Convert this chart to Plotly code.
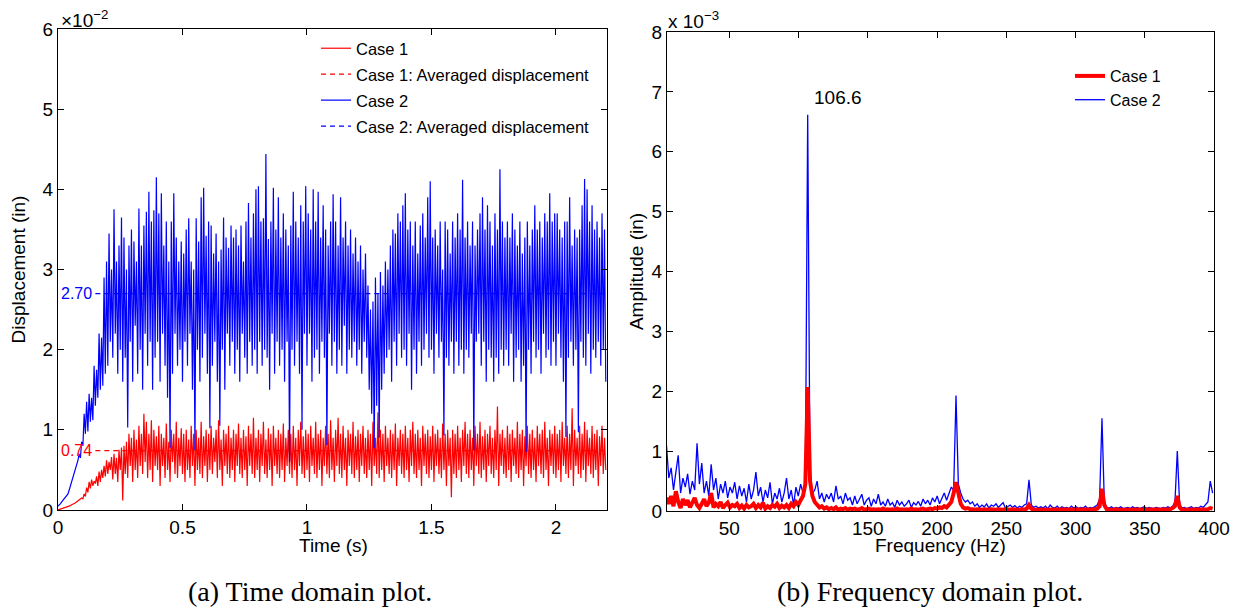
import plotly.graph_objects as go

# ---- data (time domain, displacement in 1e-2 in, sampled every 0.005 s) ----
DT = 0.005
case1_disp = [
    0.0, 0.005, 0.01, 0.015, 0.02, 0.025, 0.03, 0.035, 0.04, 0.05, 0.055, 0.065, 0.07, 0.08, 0.09, 0.1, 0.11, 0.12, 0.13, 0.15,
    0.14, 0.2, 0.17, 0.28, 0.22, 0.35, 0.27, 0.38, 0.3, 0.36, 0.33, 0.42, 0.3, 0.48, 0.35, 0.5, 0.4, 0.55, 0.42, 0.62,
    0.45, 0.6, 0.5, 0.66, 0.38, 0.7, 0.45, 0.65, 0.35, 0.75, 0.5, 0.78, 0.12, 0.8, 0.45, 0.85, 0.4, 0.95, 0.55, 0.9,
    0.35, 1.0, 0.5, 0.88, 0.4, 1.05, 0.55, 0.95, 0.45, 1.2, 0.6, 1.1, 0.4, 0.95, 0.5, 1.12, 0.35, 1.0, 0.55, 0.92,
    0.5, 1.05, 0.3, 0.95, 0.55, 0.9, 0.4, 1.08, 0.5, 0.85, 0.35, 1.0, 0.6, 0.95, 0.45, 1.1, 0.4, 0.9, 0.55, 1.02,
    0.45, 0.95, 0.35, 1.0, 0.5, 0.88, 0.4, 1.05, 0.55, 0.95, 0.3, 1.0, 0.5, 0.9, 0.45, 1.1, 0.4, 0.92, 0.55, 1.0,
    0.35, 0.95, 0.5, 1.05, 0.45, 0.9, 0.6, 1.0, 0.4, 1.12, 0.5, 0.88, 0.3, 1.0, 0.55, 0.95, 0.45, 1.05, 0.4, 0.9,
    0.5, 1.0, 0.35, 0.95, 0.55, 1.08, 0.45, 0.9, 0.4, 1.0, 0.5, 0.92, 0.3, 1.05, 0.55, 0.95, 0.45, 1.15, 0.4, 0.9,
    0.5, 1.0, 0.35, 0.95, 0.55, 1.1, 0.45, 0.88, 0.4, 1.02, 0.5, 0.95, 0.3, 1.05, 0.55, 0.9, 0.45, 1.0, 0.4, 0.95,
    0.5, 1.08, 0.35, 0.9, 0.55, 1.0, 0.45, 0.95, 0.4, 1.05, 0.5, 0.9, 0.3, 1.0, 0.55, 1.1, 0.45, 0.92, 0.4, 1.0,
    0.5, 0.95, 0.35, 1.05, 0.55, 0.9, 0.45, 1.1, 0.4, 0.95, 0.5, 1.0, 0.3, 0.9, 0.55, 1.05, 0.45, 0.95, 0.4, 1.12,
    0.5, 0.9, 0.35, 1.0, 0.55, 1.15, 0.45, 0.95, 0.4, 1.05, 0.5, 0.9, 0.3, 1.0, 0.55, 0.95, 0.45, 1.1, 0.4, 0.92,
    0.5, 1.0, 0.35, 0.95, 0.55, 1.05, 0.45, 0.9, 0.4, 1.0, 0.5, 0.95, 0.3, 1.1, 0.55, 0.9, 0.45, 1.22, 0.4, 1.0,
    0.5, 0.95, 0.35, 1.05, 0.55, 0.9, 0.45, 1.0, 0.4, 0.95, 0.5, 1.08, 0.3, 0.9, 0.55, 1.0, 0.45, 0.95, 0.4, 1.05,
    0.5, 0.9, 0.35, 1.0, 0.55, 1.1, 0.45, 0.95, 0.4, 1.0, 0.5, 0.9, 0.3, 1.05, 0.55, 0.95, 0.45, 1.0, 0.4, 0.92,
    0.5, 1.05, 0.35, 0.95, 0.55, 1.0, 0.45, 0.9, 0.4, 1.08, 0.5, 0.95, 0.3, 1.0, 0.55, 0.9, 0.16, 1.0, 0.45, 0.95,
    0.4, 1.05, 0.5, 0.9, 0.35, 1.0, 0.55, 1.1, 0.45, 0.95, 0.4, 1.0, 0.5, 0.9, 0.3, 1.05, 0.55, 0.95, 0.45, 1.1,
    0.4, 0.92, 0.5, 1.0, 0.35, 0.95, 0.55, 1.05, 0.45, 0.9, 0.4, 1.0, 0.5, 1.29, 0.3, 0.95, 0.55, 1.0, 0.45, 0.9,
    0.4, 1.05, 0.5, 0.95, 0.35, 1.0, 0.55, 0.9, 0.45, 1.1, 0.4, 0.95, 0.5, 1.0, 0.3, 0.92, 0.55, 1.05, 0.45, 0.95,
    0.4, 1.0, 0.5, 0.9, 0.35, 1.05, 0.55, 0.95, 0.45, 1.0, 0.4, 1.1, 0.5, 0.9, 0.3, 1.0, 0.55, 0.95, 0.45, 1.05,
    0.4, 0.95, 0.5, 1.0, 0.35, 1.1, 0.55, 0.9, 0.45, 1.05, 0.4, 0.95, 0.5, 1.27, 0.3, 1.0, 0.55, 0.9, 0.45, 1.05,
    0.4, 0.95, 0.5, 1.1, 0.35, 1.0, 0.55, 0.9, 0.45, 1.05, 0.4, 0.95, 0.5, 1.0, 0.3, 0.92, 0.55, 1.05, 0.45, 0.9,
    0.5,
]
case2_disp = [
    0.05, 0.06, 0.08, 0.1, 0.12, 0.14, 0.15, 0.18, 0.2, 0.25, 0.3, 0.35, 0.42, 0.45, 0.5, 0.55, 0.62, 0.7, 0.65, 0.85,
    0.8, 1.2, 0.95, 1.35, 0.98, 1.45, 1.1, 1.4, 1.12, 1.8, 1.3, 1.75, 1.4, 2.2, 1.5, 2.15, 1.55, 2.9, 1.7, 3.1,
    1.8, 3.45, 2.1, 3.0, 1.9, 3.75, 2.2, 3.1, 1.7, 3.3, 2.0, 3.65, 1.6, 3.4, 1.9, 3.0, 1.03, 3.3, 2.1, 3.5,
    1.6, 3.35, 2.3, 3.1, 1.7, 3.76, 2.0, 3.3, 1.5, 3.55, 2.2, 3.72, 1.8, 3.97, 2.1, 3.6, 1.5, 3.74, 1.9, 4.15,
    2.1, 3.7, 1.6, 3.95, 2.2, 3.3, 1.8, 3.6, 1.4, 3.1, 0.77, 3.6, 1.7, 3.95, 2.2, 3.4, 1.8, 3.1, 2.0, 3.35,
    1.6, 3.2, 2.1, 3.5, 1.8, 3.64, 2.2, 3.1, 1.5, 3.0, 0.75, 3.64, 2.0, 3.35, 1.6, 3.9, 1.9, 4.02, 2.2, 3.42,
    1.7, 3.6, 1.02, 3.55, 1.8, 3.2, 2.1, 3.45, 1.6, 3.1, 1.05, 3.25, 2.0, 3.65, 1.5, 3.4, 2.2, 3.27, 1.8, 3.55,
    2.1, 3.4, 1.7, 3.5, 2.0, 3.3, 1.6, 3.55, 2.2, 3.1, 1.9, 3.6, 1.7, 3.83, 2.1, 3.4, 1.8, 3.7, 2.0, 4.0,
    1.7, 4.04, 2.1, 3.6, 1.8, 3.64, 2.0, 4.44, 1.9, 3.38, 1.5, 3.6, 2.2, 4.02, 1.7, 3.5, 2.1, 3.9, 1.8, 3.4,
    2.0, 3.7, 1.6, 3.5, 2.1, 3.3, 0.6, 3.55, 2.0, 3.97, 1.8, 3.6, 2.1, 3.4, 1.7, 3.8, 1.0, 3.6, 2.2, 4.04,
    1.8, 3.7, 2.2, 3.5, 1.6, 4.0, 1.9, 3.6, 2.0, 3.97, 1.7, 3.4, 2.1, 3.8, 1.9, 3.5, 0.81, 3.3, 2.2, 3.6,
    1.8, 3.94, 2.1, 3.6, 1.7, 3.3, 2.0, 3.9, 1.8, 3.4, 2.3, 3.6, 1.7, 3.3, 2.0, 3.5, 1.9, 3.2, 2.1, 3.4,
    1.8, 3.1, 2.0, 3.3, 1.7, 3.0, 2.1, 3.2, 1.9, 2.8, 1.5, 2.5, 1.2, 2.6, 0.77, 2.9, 1.3, 2.7, 0.9, 2.97,
    1.5, 2.8, 1.7, 3.1, 1.9, 3.0, 2.0, 3.3, 1.6, 3.5, 2.1, 3.45, 1.8, 3.7, 2.2, 3.6, 1.9, 3.8, 2.0, 3.95,
    1.8, 3.5, 2.2, 3.6, 1.5, 3.3, 2.0, 3.6, 1.7, 3.2, 2.1, 3.55, 1.8, 3.7, 2.0, 3.4, 2.2, 3.9, 1.9, 4.1,
    2.0, 3.4, 1.7, 3.5, 2.2, 3.3, 1.9, 3.6, 2.1, 3.0, 0.93, 3.6, 1.9, 3.5, 1.8, 3.2, 2.1, 3.6, 1.7, 3.4,
    2.1, 3.7, 1.8, 3.5, 2.0, 4.12, 1.7, 3.4, 2.0, 3.6, 1.9, 3.3, 2.2, 3.6, 0.75, 3.3, 2.1, 3.5, 2.2, 3.7,
    1.8, 3.9, 2.1, 3.5, 1.6, 3.8, 2.0, 3.6, 1.9, 3.3, 1.6, 3.7, 1.9, 3.5, 1.7, 4.25, 2.0, 3.6, 1.8, 3.4,
    2.0, 3.6, 1.8, 3.4, 2.2, 3.7, 1.6, 3.5, 1.9, 3.3, 2.0, 3.6, 1.6, 3.2, 1.8, 3.4, 0.72, 3.6, 2.0, 3.3,
    1.7, 3.5, 2.1, 3.8, 1.9, 3.5, 2.0, 3.6, 1.7, 3.4, 2.2, 3.7, 1.9, 3.6, 2.0, 3.95, 1.8, 3.6, 2.1, 3.7,
    1.8, 3.7, 2.2, 3.5, 1.9, 3.4, 1.6, 3.6, 0.91, 3.6, 1.9, 3.9, 2.1, 3.3, 1.8, 3.5, 2.0, 3.4, 0.97, 3.5,
    2.1, 3.8, 1.9, 4.13, 1.8, 4.0, 2.2, 3.6, 1.7, 3.8, 2.0, 3.5, 1.9, 3.6, 2.1, 3.4, 1.8, 3.7, 2.0, 3.5,
    1.6,
]
case1_avg = 0.74
case2_avg = 2.70
time1_s = [i * DT for i in range(len(case1_disp))]
time2_s = [i * DT for i in range(len(case2_disp))]
AVG_START_S = 0.15

# ---- data (frequency domain, amplitude in 1e-3 in, bins every 1.7 Hz from 4.6 Hz) ----
F0, DF = 4.6, 1.7
case2_amp = [
    1.1, 0.55, 0.72, 0.35, 0.65, 0.93, 0.3, 0.55, 0.4, 0.62,
    0.28, 0.5, 0.35, 1.13, 0.45, 0.8, 0.3, 0.5, 0.25, 0.78,
    0.35, 0.55, 0.2, 0.45, 0.3, 0.5, 0.22, 0.4, 0.3, 0.48,
    0.2, 0.42, 0.25, 0.38, 0.15, 0.45, 0.2, 0.35, 0.65, 0.25,
    0.4, 0.15, 0.35, 0.22, 0.48, 0.12, 0.3, 0.2, 0.38, 0.15,
    0.3, 0.55, 0.2, 0.35, 0.1, 0.4, 0.25, 0.45, 0.3, 0.42,
    6.62, 0.5, 0.3, 0.35, 0.5, 0.2, 0.3, 0.15, 0.28, 0.2,
    0.3, 0.15, 0.42, 0.2, 0.25, 0.12, 0.3, 0.18, 0.22, 0.1,
    0.25, 0.12, 0.2, 0.28, 0.1, 0.18, 0.22, 0.08, 0.2, 0.12,
    0.28, 0.1, 0.15, 0.08, 0.2, 0.1, 0.14, 0.06, 0.18, 0.1,
    0.15, 0.08, 0.12, 0.18, 0.06, 0.14, 0.1, 0.16, 0.08, 0.2,
    0.12, 0.18, 0.1, 0.22, 0.15, 0.25, 0.12, 0.2, 0.3, 0.18,
    0.28, 0.4, 0.35, 1.93, 0.45, 0.3, 0.2, 0.15, 0.18, 0.12,
    0.15, 0.08, 0.12, 0.06, 0.1, 0.07, 0.12, 0.05, 0.1, 0.08,
    0.12, 0.06, 0.1, 0.14, 0.05, 0.08, 0.1, 0.06, 0.09, 0.05,
    0.08, 0.06, 0.1, 0.12, 0.52, 0.1, 0.06, 0.08, 0.05, 0.07,
    0.05, 0.08, 0.04, 0.1, 0.06, 0.05, 0.08, 0.04, 0.07, 0.05,
    0.06, 0.04, 0.08, 0.05, 0.07, 0.04, 0.06, 0.05, 0.08, 0.04,
    0.06, 0.05, 0.08, 0.1, 0.2, 1.55, 0.15, 0.06, 0.05, 0.07,
    0.04, 0.06, 0.05, 0.07, 0.04, 0.05, 0.06, 0.04, 0.07, 0.05,
    0.06, 0.04, 0.05, 0.07, 0.04, 0.06, 0.05, 0.04, 0.06, 0.05,
    0.04, 0.06, 0.05, 0.07, 0.05, 0.08, 0.15, 1.0, 0.1, 0.05,
    0.06, 0.04, 0.05, 0.07, 0.04, 0.06, 0.05, 0.08, 0.06, 0.1,
    0.15, 0.5, 0.3,
]
case1_amp = [
    0.22, 0.12, 0.25, 0.08, 0.33, 0.15, 0.05, 0.2, 0.1, 0.18,
    0.06, 0.15, 0.22, 0.1, 0.05, 0.12, 0.2, 0.08, 0.14, 0.3,
    0.06, 0.12, 0.08, 0.15, 0.05, 0.1, 0.14, 0.06, 0.1, 0.08,
    0.12, 0.05, 0.09, 0.04, 0.1, 0.06, 0.08, 0.12, 0.05, 0.1,
    0.06, 0.14, 0.04, 0.08, 0.05, 0.1, 0.07, 0.12, 0.05, 0.09,
    0.06, 0.1, 0.05, 0.12, 0.08, 0.15, 0.1, 0.18, 0.25, 0.45,
    2.07, 0.5, 0.25, 0.15, 0.1, 0.06, 0.08, 0.04, 0.06, 0.03,
    0.05, 0.03, 0.06, 0.02, 0.04, 0.03, 0.05, 0.02, 0.04, 0.03,
    0.04, 0.02, 0.03, 0.05, 0.02, 0.03, 0.04, 0.02, 0.03, 0.02,
    0.03, 0.02, 0.04, 0.02, 0.03, 0.02, 0.03, 0.02, 0.04, 0.02,
    0.03, 0.02, 0.03, 0.02, 0.04, 0.02, 0.03, 0.02, 0.03, 0.04,
    0.02, 0.03, 0.04, 0.03, 0.05, 0.04, 0.06, 0.05, 0.08, 0.06,
    0.1, 0.15, 0.3, 0.48, 0.3, 0.12, 0.06, 0.04, 0.05, 0.03,
    0.03, 0.02, 0.03, 0.02, 0.02, 0.03, 0.02, 0.02, 0.03, 0.02,
    0.02, 0.03, 0.02, 0.02, 0.03, 0.02, 0.02, 0.03, 0.02, 0.02,
    0.02, 0.03, 0.02, 0.04, 0.1, 0.04, 0.02, 0.02, 0.03, 0.02,
    0.02, 0.02, 0.03, 0.02, 0.02, 0.02, 0.03, 0.02, 0.02, 0.02,
    0.02, 0.03, 0.02, 0.02, 0.02, 0.03, 0.02, 0.02, 0.02, 0.03,
    0.02, 0.02, 0.03, 0.04, 0.08, 0.37, 0.1, 0.03, 0.02, 0.02,
    0.02, 0.03, 0.02, 0.02, 0.02, 0.03, 0.02, 0.02, 0.02, 0.02,
    0.02, 0.02, 0.03, 0.02, 0.02, 0.02, 0.02, 0.03, 0.02, 0.02,
    0.02, 0.02, 0.03, 0.02, 0.03, 0.05, 0.08, 0.25, 0.06, 0.02,
    0.02, 0.02, 0.02, 0.03, 0.02, 0.02, 0.02, 0.02, 0.03, 0.02,
    0.03, 0.05, 0.04,
]
freq_hz = [F0 + i * DF for i in range(len(case2_amp))]
peak_freq = 106.6

RED = "#ff0000"
BLUE = "#0000ff"
FONT = "Liberation Sans, Arial, sans-serif"
SERIF = "Liberation Serif, Times New Roman, serif"

# the page body adds an 8px margin; the figure starts there and runs to the window edge
PAGE_W, PAGE_H, BODY = 1241, 607, 8
W, H = PAGE_W - BODY, PAGE_H - BODY


def px(x):
    """screen x pixel -> paper fraction"""
    return (x - BODY) / W


def py(y):
    """screen y pixel -> paper fraction"""
    return 1 - (y - BODY) / H


fig = go.Figure()

# time domain
fig.add_trace(go.Scatter(x=time1_s, y=case1_disp, mode="lines", name="Case 1",
                         line=dict(color=RED, width=1.2), legend="legend", legendgroup="a"))
fig.add_trace(go.Scatter(x=[AVG_START_S, time1_s[-1]], y=[case1_avg, case1_avg], mode="lines",
                         name="Case 1: Averaged displacement",
                         line=dict(color=RED, width=1.3, dash="5px,4px"),
                         legend="legend", legendgroup="b"))
fig.add_trace(go.Scatter(x=time2_s, y=case2_disp, mode="lines", name="Case 2",
                         line=dict(color=BLUE, width=1.2), legend="legend", legendgroup="c"))
fig.add_trace(go.Scatter(x=[AVG_START_S, time2_s[-1]], y=[case2_avg, case2_avg], mode="lines",
                         name="Case 2: Averaged displacement",
                         line=dict(color=BLUE, width=1.3, dash="5px,4px"),
                         legend="legend", legendgroup="d"))

# frequency domain (red drawn on top, but listed first in legend)
fig.add_trace(go.Scatter(x=freq_hz, y=case2_amp, mode="lines", name="Case 2",
                         line=dict(color=BLUE, width=1.3), xaxis="x2", yaxis="y2",
                         legend="legend2", legendrank=2))
fig.add_trace(go.Scatter(x=freq_hz, y=case1_amp, mode="lines", name="Case 1",
                         line=dict(color=RED, width=4), xaxis="x2", yaxis="y2",
                         legend="legend2", legendrank=1))

axis_common = dict(
    ticks="inside", ticklen=6, tickcolor="black", showline=True, linecolor="black",
    linewidth=1, mirror="ticks", showgrid=False, zeroline=False, automargin=False,
    tickfont=dict(family=FONT, size=19, color="black"),
)

fig.update_layout(
    width=W, height=H,
    margin=dict(l=0, r=0, t=0, b=0),
    paper_bgcolor="white", plot_bgcolor="white",
    font=dict(family=FONT, color="black"),
    showlegend=True,
    xaxis=dict(axis_common, domain=[px(58), px(607)], range=[0, 2.205], anchor="y",
               tickvals=[0, 0.5, 1, 1.5, 2]),
    yaxis=dict(axis_common, domain=[py(510), py(29)], range=[0, 6], anchor="x",
               tickvals=[0, 1, 2, 3, 4, 5, 6],
               title=dict(text="Displacement (in)", font=dict(size=19), standoff=11)),
    xaxis2=dict(axis_common, domain=[px(667), px(1214)], range=[5, 400], anchor="y2",
                tickvals=[50, 100, 150, 200, 250, 300, 350, 400]),
    yaxis2=dict(axis_common, domain=[py(511), py(32)], range=[0, 8], anchor="x2",
                tickvals=[0, 1, 2, 3, 4, 5, 6, 7, 8],
                title=dict(text="Amplitude (in)", font=dict(size=19), standoff=2)),
    legend=dict(x=px(316), y=py(31), xanchor="left", yanchor="top",
                bgcolor="rgba(0,0,0,0)", font=dict(size=16.5), tracegroupgap=1.5,
                itemwidth=30),
    legend2=dict(x=px(1070), y=py(59), xanchor="left", yanchor="top",
                 bgcolor="rgba(0,0,0,0)", font=dict(size=16), tracegroupgap=0,
                 itemwidth=30),
)

annotations = [
    # x axis titles, placed just under the tick labels
    dict(text="Time (s)", x=px(333), y=py(545), xref="paper", yref="paper",
         xanchor="center", yanchor="middle", showarrow=False, font=dict(size=19)),
    dict(text="Frequency (Hz)", x=px(940), y=py(545), xref="paper", yref="paper",
         xanchor="center", yanchor="middle", showarrow=False, font=dict(size=19)),
    # exponent labels
    dict(text="×10<sup>−2</sup>", x=px(59), y=py(33), xref="paper", yref="paper",
         xanchor="left", yanchor="bottom", showarrow=False, font=dict(size=19)),
    dict(text="x 10<sup>−3</sup>", x=px(666), y=py(34), xref="paper", yref="paper",
         xanchor="left", yanchor="bottom", showarrow=False, font=dict(size=19)),
    dict(text=f"{case2_avg:.2f}", x=0.005, y=case2_avg, xref="x", yref="y",
         xanchor="left", yanchor="middle", showarrow=False, font=dict(size=16, color=BLUE)),
    dict(text=f"{case1_avg:.2f}", x=0.005, y=case1_avg, xref="x", yref="y",
         xanchor="left", yanchor="middle", showarrow=False, font=dict(size=16, color=RED)),
    dict(text=f"{peak_freq}", x=peak_freq + 3, y=6.9, xref="x2", yref="y2",
         xanchor="left", yanchor="middle", showarrow=False, font=dict(size=19)),
    dict(text="(a) Time domain plot.", x=px(310), y=py(591), xref="paper", yref="paper",
         xanchor="center", yanchor="middle", showarrow=False,
         font=dict(family=SERIF, size=28)),
    dict(text="(b) Frequency domain plot.", x=px(930), y=py(591), xref="paper", yref="paper",
         xanchor="center", yanchor="middle", showarrow=False,
         font=dict(family=SERIF, size=28)),
]
fig.update_layout(annotations=annotations)

fig.write_html("out.html")
